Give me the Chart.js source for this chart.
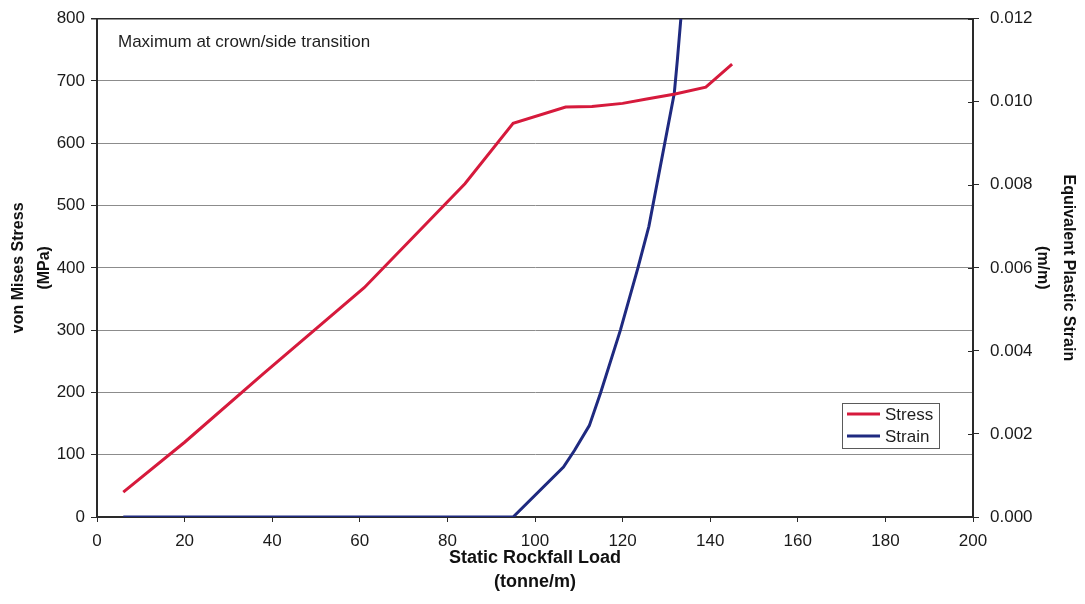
<!DOCTYPE html>
<html>
<head>
<meta charset="utf-8">
<title>Static Rockfall Load – Stress and Strain</title>
<script src="https://cdn.jsdelivr.net/npm/chart.js@4.4.1/dist/chart.umd.min.js"></script>
<style>
  html, body { margin: 0; padding: 0; background: #ffffff; }
  #wrap { width: 1085px; height: 604px; }
</style>
</head>
<body>
<div id="wrap"><canvas id="c" width="1085" height="604"></canvas></div>
<script>
// Static rockfall load (tonne/m) vs von Mises stress (MPa)
const stressLoad = [6, 20, 38, 61, 84, 95, 107, 113, 120, 125.5, 132, 139, 145];
const stressMPa  = [40, 120, 230, 368, 535, 632, 658, 659, 664, 671, 679, 690, 727];

// Static rockfall load (tonne/m) vs equivalent plastic strain (m/m)
const strainLoad  = [6, 95, 106.5, 109, 112.4, 115, 119.5, 123.5, 126, 131.8, 132.5, 133.3];
const strainValue = [0, 0, 0.0012, 0.0016, 0.0022, 0.0030, 0.0045, 0.0060, 0.0070, 0.0102, 0.0110, 0.0120];

// Axis ticks
const loadTicks   = [0, 20, 40, 60, 80, 100, 120, 140, 160, 180, 200];
const stressTicks = [0, 100, 200, 300, 400, 500, 600, 700, 800];
const strainTicks = [0, 0.002, 0.004, 0.006, 0.008, 0.010, 0.012];

const noteText = 'Maximum at crown/side transition';

const FONT = "'Liberation Sans', Arial, Helvetica, sans-serif";
const AXIS_DARK = '#2a2a2a';
const GRID_GREY = '#8c8c8c';

const toPoints = (xs, ys) => xs.map((x, i) => ({ x: x, y: ys[i] }));

// Text note in the upper-left corner of the plot
const notePlugin = {
  id: 'note',
  afterDraw(chart) {
    const ctx = chart.ctx;
    const area = chart.chartArea;
    ctx.save();
    ctx.font = '17px ' + FONT;
    ctx.fillStyle = '#1e1e1e';
    ctx.textBaseline = 'alphabetic';
    ctx.textAlign = 'left';
    ctx.fillText(noteText, area.left + 21, area.top + 28);
    ctx.restore();
  }
};

// Boxed legend placed inside the plot, lower right
const boxLegendPlugin = {
  id: 'boxLegend',
  afterDraw(chart) {
    const ctx = chart.ctx;
    const area = chart.chartArea;
    const sets = chart.data.datasets;
    const boxW = 97, rowH = 22, boxH = 45;
    const x0 = area.right - 131;
    const y0 = area.bottom - 114;
    ctx.save();
    ctx.fillStyle = '#ffffff';
    ctx.fillRect(x0, y0, boxW, boxH);
    ctx.strokeStyle = '#5a5a5a';
    ctx.lineWidth = 1;
    ctx.strokeRect(x0 + 0.5, y0 + 0.5, boxW, boxH);
    ctx.font = '17px ' + FONT;
    ctx.textBaseline = 'middle';
    ctx.textAlign = 'left';
    sets.forEach((ds, i) => {
      const cy = y0 + 11 + i * rowH;
      ctx.strokeStyle = ds.borderColor;
      ctx.lineWidth = 3;
      ctx.beginPath();
      ctx.moveTo(x0 + 5, cy);
      ctx.lineTo(x0 + 38, cy);
      ctx.stroke();
      ctx.fillStyle = '#1e1e1e';
      ctx.fillText(ds.label, x0 + 43, cy + 1);
    });
    ctx.restore();
  }
};

// Short tick stubs on the inner side of the right-hand axis
const innerTickPlugin = {
  id: 'innerTicks',
  afterDraw(chart) {
    const scale = chart.scales.y2;
    const ctx = chart.ctx;
    ctx.save();
    ctx.strokeStyle = AXIS_DARK;
    ctx.lineWidth = 1;
    scale.ticks.forEach((t, i) => {
      const y = Math.round(scale.getPixelForTick(i)) + 0.5;
      ctx.beginPath();
      ctx.moveTo(scale.left - 5, y);
      ctx.lineTo(scale.left, y);
      ctx.stroke();
    });
    ctx.restore();
  }
};

const chart = new Chart(document.getElementById('c'), {
  type: 'scatter',
  data: {
    datasets: [
      {
        label: 'Stress',
        data: toPoints(stressLoad, stressMPa),
        yAxisID: 'y',
        showLine: true,
        borderColor: '#d61a3c',
        borderWidth: 3,
        pointRadius: 0,
        tension: 0,
        fill: false
      },
      {
        label: 'Strain',
        data: toPoints(strainLoad, strainValue),
        yAxisID: 'y2',
        showLine: true,
        borderColor: '#1f2a80',
        borderWidth: 3,
        pointRadius: 0,
        tension: 0,
        fill: false
      }
    ]
  },
  options: {
    responsive: false,
    animation: false,
    devicePixelRatio: 1,
    layout: { padding: { top: 17, left: 0, right: 0, bottom: 0 } },
    plugins: {
      legend: { display: false },
      tooltip: { enabled: false }
    },
    scales: {
      x: {
        type: 'linear',
        position: 'bottom',
        min: 0,
        max: 200,
        afterBuildTicks(scale) { scale.ticks = loadTicks.map(v => ({ value: v })); },
        afterFit(scale) { scale.height = 87; },
        ticks: {
          font: { family: FONT, size: 17 },
          color: '#1a1a1a',
          padding: 9,
          maxRotation: 0
        },
        grid: {
          drawOnChartArea: false,
          drawTicks: true,
          tickLength: 5,
          tickColor: AXIS_DARK,
          lineWidth: 1
        },
        border: { display: true, color: AXIS_DARK, width: 2 },
        title: {
          display: true,
          text: ['Static Rockfall Load', '(tonne/m)'],
          font: { family: FONT, size: 18, weight: 'bold', lineHeight: 1.35 },
          color: '#111111',
          padding: { top: 0, bottom: 10 }
        }
      },
      y: {
        type: 'linear',
        position: 'left',
        min: 0,
        max: 800,
        afterBuildTicks(scale) { scale.ticks = stressTicks.map(v => ({ value: v })); },
        afterFit(scale) { scale.width = 97; },
        ticks: {
          font: { family: FONT, size: 17, lineHeight: 0.9 },
          color: '#1a1a1a',
          padding: 6
        },
        grid: {
          drawOnChartArea: true,
          drawTicks: true,
          tickLength: 6,
          tickColor: AXIS_DARK,
          color: ctx => (ctx.tick && ctx.tick.value === 800) ? AXIS_DARK : GRID_GREY,
          lineWidth: ctx => (ctx.tick && ctx.tick.value === 800) ? 1.5 : 1
        },
        border: { display: true, color: AXIS_DARK, width: 2 },
        title: {
          display: true,
          text: ['von Mises Stress', '(MPa)'],
          font: { family: FONT, size: 16, weight: 'bold', lineHeight: 1.62 },
          color: '#111111',
          padding: { top: 6, bottom: 0 }
        }
      },
      y2: {
        type: 'linear',
        position: 'right',
        min: 0,
        max: 0.012,
        afterBuildTicks(scale) { scale.ticks = strainTicks.map(v => ({ value: v })); },
        afterFit(scale) { scale.width = 112; },
        ticks: {
          font: { family: FONT, size: 17, lineHeight: 0.9 },
          color: '#1a1a1a',
          padding: 11,
          callback: v => Number(v).toFixed(3)
        },
        grid: {
          drawOnChartArea: false,
          drawTicks: true,
          tickLength: 6,
          tickColor: AXIS_DARK
        },
        border: { display: true, color: AXIS_DARK, width: 2 },
        title: {
          display: true,
          text: ['Equivalent Plastic Strain', '(m/m)'],
          font: { family: FONT, size: 16, weight: 'bold', lineHeight: 1.65 },
          color: '#111111',
          padding: { top: 3, bottom: 0 }
        }
      }
    }
  },
  plugins: [notePlugin, boxLegendPlugin, innerTickPlugin]
});
</script>
</body>
</html>
